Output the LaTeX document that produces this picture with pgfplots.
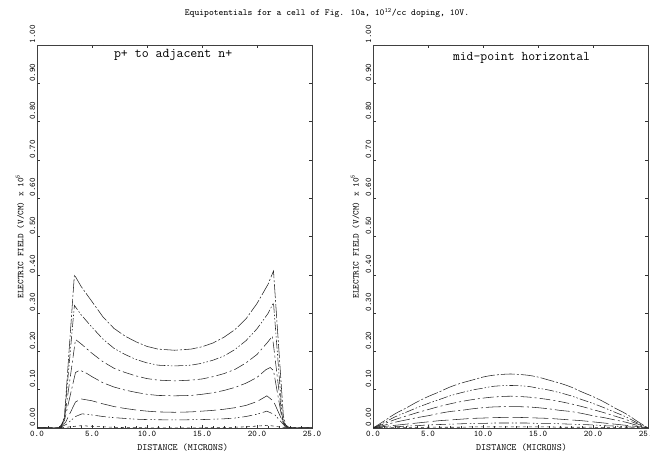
\documentclass[border=0pt]{standalone}
\usepackage{pgfplots}
\pgfplotsset{compat=1.18}
\usepackage{pgfplotstable}
\usepackage{fontspec}
\renewcommand*\familydefault{\ttdefault}

\pgfplotstableread{
x     a     b     c     d     e     f     g
0     0     0     0     0     0     0     0
1     0.018 0.014 0.011 0.007 0.004 0.002 0
2     0.037 0.029 0.022 0.015 0.007 0.003 0.001
3     0.052 0.041 0.031 0.021 0.010 0.005 0.001
4     0.068 0.053 0.040 0.027 0.013 0.006 0.001
5     0.082 0.064 0.048 0.032 0.016 0.008 0.002
6     0.094 0.074 0.056 0.038 0.019 0.009 0.002
7     0.107 0.084 0.063 0.043 0.021 0.010 0.002
8     0.117 0.092 0.069 0.046 0.023 0.011 0.002
9     0.125 0.099 0.074 0.050 0.025 0.012 0.003
10    0.133 0.104 0.078 0.053 0.026 0.012 0.003
11    0.138 0.109 0.081 0.055 0.027 0.013 0.003
12.5  0.141 0.111 0.083 0.056 0.028 0.013 0.003
14    0.138 0.109 0.081 0.055 0.027 0.013 0.003
15    0.133 0.104 0.078 0.053 0.026 0.012 0.003
16    0.125 0.099 0.074 0.050 0.025 0.012 0.003
17    0.117 0.092 0.069 0.046 0.023 0.011 0.002
18    0.107 0.084 0.063 0.043 0.021 0.010 0.002
19    0.094 0.074 0.056 0.038 0.019 0.009 0.002
20    0.082 0.064 0.048 0.032 0.016 0.008 0.002
21    0.068 0.053 0.040 0.027 0.013 0.006 0.001
22    0.052 0.041 0.031 0.021 0.010 0.005 0.001
23    0.037 0.029 0.022 0.015 0.007 0.003 0.001
24    0.018 0.014 0.011 0.007 0.004 0.002 0
25    0     0     0     0     0     0     0
}\midtable

\pgfplotsset{
  panel/.style={
    scale only axis, width=275pt, height=383pt,
    xmin=0, xmax=25, ymin=0, ymax=1,
    xtick={0,5,...,25}, ytick={0,0.1,...,1.0},
    minor x tick num=4,
    tick align=inside, major tick length=3pt, minor tick length=1.5pt,
    axis line style={black!75, line width=0.7pt},
    tick style={black!80, line width=0.4pt},
    /pgf/number format/assume math mode=true,
    xticklabel style={font=\ttfamily\fontsize{8.6}{9}\selectfont, /pgf/number format/.cd, fixed, fixed zerofill, precision=1},
    yticklabel style={font=\ttfamily\fontsize{8.6}{9}\selectfont, rotate=90, anchor=south west, inner sep=1.5pt, /pgf/number format/.cd, fixed, fixed zerofill, precision=2},
    xlabel={DISTANCE (MICRONS)},
    xlabel style={font=\ttfamily\fontsize{9.6}{10}\selectfont, anchor=center},
    ylabel={ELECTRIC FIELD (V/CM) x 10\textsuperscript{5}},
    ylabel style={font=\ttfamily\fontsize{8.8}{9}\selectfont, anchor=center},
    every axis plot/.append style={line width=0.55pt, black!85},
  },
  c1/.style={dash pattern=on 14pt off 2pt on 2pt off 2pt},
  c2/.style={dash pattern=on 9pt off 2pt on 1.5pt off 2pt on 1.5pt off 2pt},
  c3/.style={dash pattern=on 11pt off 3pt on 2pt off 3pt},
  c4/.style={dash pattern=on 15pt off 3pt on 2pt off 3pt},
  c5/.style={dash pattern=on 16pt off 4pt},
  c6/.style={dash pattern=on 10pt off 3pt on 1.5pt off 2pt on 1.5pt off 3pt},
  c7/.style={dash pattern=on 3pt off 3pt},
}

\begin{document}
\begin{tikzpicture}
\useasboundingbox (0pt,0pt) rectangle (650pt,457pt);
\node[font=\ttfamily\fontsize{9.2}{10}\selectfont] at (327pt,444pt) {Equipotentials for a cell of Fig. 10a, 10\textsuperscript{12}/cc doping, 10V.};

\begin{axis}[panel, at={(37pt,29pt)}, anchor=south west,
  xlabel style={at={(axis description cs:0.53,-0.05)}},
  ylabel style={at={(axis description cs:-0.062,0.5)}}]
\addplot[c1] coordinates {(0,0) (2.2,0) (2.5,0.03) (3.4,0.40) (4,0.37) (5,0.33) (6,0.29) (7,0.26) (8,0.24) (9,0.225) (10,0.213) (11,0.206) (12.5,0.203) (14,0.206) (15,0.212) (16,0.222) (17,0.237) (18,0.257) (19,0.285) (20,0.325) (21,0.375) (21.5,0.41) (22.4,0.03) (22.7,0) (25,0)};
\addplot[c2] coordinates {(0,0) (2.2,0) (2.5,0.03) (3.4,0.320) (4,0.296) (5,0.263) (6,0.232) (7,0.208) (8,0.192) (9,0.179) (10,0.170) (11,0.164) (12.5,0.162) (14,0.164) (15,0.169) (16,0.177) (17,0.188) (18,0.205) (19,0.228) (20,0.259) (21,0.299) (21.5,0.327) (22.3,0.03) (22.6,0) (25,0)};
\addplot[c3] coordinates {(0,0) (2.1,0) (2.5,0.025) (3.5,0.231) (4,0.220) (5,0.195) (6,0.173) (7,0.156) (8,0.145) (9,0.136) (10,0.129) (11,0.125) (12.5,0.123) (14,0.125) (15,0.128) (16,0.134) (17,0.142) (18,0.153) (19,0.170) (20,0.192) (21,0.225) (21.4,0.240) (22.3,0.025) (22.6,0) (25,0)};
\addplot[c4] coordinates {(0,0) (2.0,0) (2.5,0.02) (3.5,0.145) (3.9,0.151) (4.5,0.143) (5,0.134) (6,0.118) (7,0.107) (8,0.099) (9,0.093) (10,0.088) (11,0.085) (12.5,0.084) (14,0.085) (15,0.088) (16,0.092) (17,0.098) (18,0.106) (19,0.117) (20,0.132) (20.8,0.152) (21.2,0.158) (21.5,0.15) (22.3,0.02) (22.8,0) (25,0)};
\addplot[c5] coordinates {(0,0) (2.0,0) (2.6,0.015) (3.5,0.068) (4.0,0.076) (5,0.071) (6,0.063) (7,0.056) (8,0.051) (9,0.047) (10,0.044) (11,0.042) (12.5,0.041) (14,0.042) (15,0.044) (16,0.046) (17,0.049) (18,0.053) (19,0.059) (20,0.069) (20.9,0.084) (21.5,0.07) (22.4,0.012) (23,0) (25,0)};
\addplot[c6] coordinates {(0,0) (2.0,0) (2.7,0.01) (3.5,0.030) (4.1,0.037) (5,0.034) (6,0.030) (7,0.027) (8,0.025) (9,0.023) (10,0.022) (12.5,0.021) (15,0.022) (17,0.024) (18,0.026) (19,0.030) (20,0.036) (20.9,0.044) (21.6,0.035) (22.5,0.006) (23.2,0) (25,0)};
\addplot[c7] coordinates {(0,0) (2.0,0) (3.0,0.003) (4,0.006) (6,0.003) (8,0.001) (12.5,0) (17,0.001) (19,0.003) (21,0.007) (22,0.003) (23,0) (25,0)};
\node[font=\ttfamily\fontsize{13.5}{14}\selectfont] at (axis description cs:0.495,0.974) {p+ to adjacent n+};
\node[font=\ttfamily\fontsize{13}{14}\selectfont] at (axis description cs:0.94,-0.04) {(12a)};
\end{axis}

\begin{axis}[panel, at={(373pt,29pt)}, anchor=south west,
  xlabel style={at={(axis description cs:0.54,-0.05)}},
  ylabel style={at={(axis description cs:-0.065,0.5)}}]
\addplot[c1, smooth] table[x=x, y=a] {\midtable};
\addplot[c2, smooth] table[x=x, y=b] {\midtable};
\addplot[c3, smooth] table[x=x, y=c] {\midtable};
\addplot[c4, smooth] table[x=x, y=d] {\midtable};
\addplot[c5, smooth] table[x=x, y=e] {\midtable};
\addplot[c6, smooth] table[x=x, y=f] {\midtable};
\addplot[c7, smooth] table[x=x, y=g] {\midtable};
\node[font=\ttfamily\fontsize{13.3}{14}\selectfont] at (axis description cs:0.54,0.966) {mid-point horizontal};
\node[font=\ttfamily\fontsize{13}{14}\selectfont] at (axis description cs:0.927,-0.05) {(12b)};
\end{axis}
\end{tikzpicture}
\end{document}
